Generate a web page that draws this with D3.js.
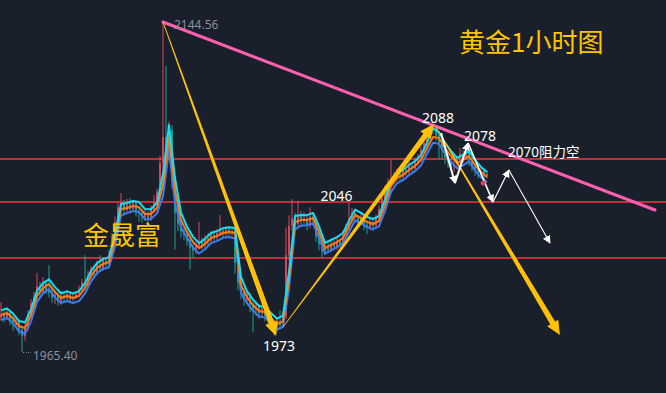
<!DOCTYPE html>
<html><head><meta charset="utf-8">
<script src="https://cdn.jsdelivr.net/npm/d3@7"></script>
<style>html,body{margin:0;padding:0;background:#1a1f2c;}svg{display:block}</style>
</head><body>
<script>
// ---------- data ----------
const firstOpen = 1984.0;
const closes = [
1986.0,1984.0,1986.8,1983.0,1980.5,1982.0,1977.5,1974.0,1979.0,1986.0,
1992.0,1995.5,2001.0,1998.0,2003.0,1999.0,1997.5,1995.0,1996.5,1993.0,
1996.0,1994.5,1996.8,1994.0,1995.5,1997.0,1999.5,2003.0,2001.5,2007.0,
2010.0,2008.5,2013.0,2011.0,2015.0,2013.0,2018.0,2028.0,2036.0,2044.0,
2046.0,2042.5,2045.5,2043.0,2046.0,2042.0,2041.0,2038.5,2040.5,2038.0,
2043.0,2046.5,2052.0,2068.0,2082.0,2076.0,2086.0,2058.0,2041.0,2035.0,
2031.0,2029.0,2026.0,2022.0,2020.5,2023.0,2025.5,2023.5,2027.0,2026.0,
2029.0,2027.5,2030.0,2031.5,2029.5,2032.0,2030.5,2031.0,2014.0,2003.0,
1998.0,1994.0,1996.5,1991.0,1988.0,1990.0,1986.5,1989.0,1985.0,1983.0,
1980.5,1978.0,1982.0,1980.0,1985.0,2018.0,2034.0,2038.0,2035.0,2040.0,
2036.5,2038.0,2034.0,2039.0,2037.0,2028.0,2024.0,2020.0,2022.5,2021.0,
2024.0,2022.5,2025.5,2024.0,2029.0,2033.0,2038.0,2041.0,2038.5,2036.0,
2038.0,2034.5,2033.0,2036.0,2034.0,2038.0,2043.0,2049.0,2053.0,2057.0,
2059.0,2060.0,2062.5,2060.5,2064.0,2063.0,2066.5,2065.0,2068.5,2071.0,
2075.0,2079.0,2084.0,2086.0,2087.5,2083.0,2079.0,2075.0,2071.0,2068.5,
2066.0,2067.5,2070.0,2073.0,2071.0,2074.0,2069.0,2066.0,2064.0,2062.0,
2063.5,2061.0,2062.0];
const highs = [
1992.5,1987.5,1988.5,1988.0,1984.5,1984.0,1983.0,1979.0,1981.0,1988.0,
1994.0,1998.0,2008.3,2003.5,2006.0,2004.5,2012.6,2000.0,1999.0,1998.0,
1998.5,1997.5,1999.0,1998.0,1997.5,1998.5,2001.5,2005.0,2018.0,2009.5,
2012.0,2012.5,2015.0,2018.0,2017.0,2016.5,2020.8,2030.0,2039.0,2046.5,
2051.7,2048.0,2048.5,2049.0,2048.0,2047.5,2044.0,2042.5,2042.5,2042.0,
2045.0,2050.5,2054.0,2072.0,2144.56,2120.7,2090.5,2088.5,2060.0,2045.0,
2037.5,2033.0,2031.0,2027.5,2024.0,2025.0,2036.0,2027.5,2029.0,2030.0,
2031.0,2031.5,2032.0,2039.8,2033.0,2033.5,2033.5,2032.5,2032.0,2016.0,
2005.0,2000.0,1998.5,1998.0,1992.5,1992.0,1991.5,1991.0,1990.0,1988.5,
1985.0,1982.0,1984.0,1988.0,1987.5,2033.0,2039.5,2048.4,2041.0,2047.5,
2042.0,2041.5,2040.0,2044.0,2041.0,2038.5,2030.0,2026.0,2024.5,2025.0,
2026.0,2026.0,2028.0,2027.0,2031.0,2035.0,2046.3,2043.5,2043.0,2040.0,
2040.5,2039.5,2036.5,2038.0,2037.5,2040.0,2045.0,2051.0,2056.0,2059.5,
2070.0,2063.0,2065.0,2064.0,2067.0,2066.0,2068.5,2068.0,2071.0,2073.0,
2077.0,2081.0,2086.0,2088.0,2089.2,2088.5,2085.0,2081.0,2077.0,2073.0,
2070.0,2069.5,2072.0,2076.1,2075.0,2077.7,2075.5,2071.0,2068.0,2066.0,
2065.5,2065.0,2064.0];
const lows = [
1982.5,1981.5,1983.0,1980.0,1977.0,1978.5,1974.5,1965.4,1971.5,1977.0,
1984.5,1990.0,1993.5,1995.0,1996.5,1997.0,1995.0,1992.0,1991.5,1990.5,
1991.0,1992.5,1993.0,1992.5,1993.0,1994.0,1995.5,1998.0,1999.5,2000.0,
2005.0,2006.0,2007.0,2009.0,2009.5,2011.0,2011.5,2016.0,2026.0,2034.0,
2041.0,2039.5,2040.5,2040.5,2041.5,2039.0,2036.0,2035.5,2036.5,2035.0,
2036.5,2041.0,2044.5,2050.5,2064.0,2071.0,2073.0,2054.0,2021.0,2031.0,
2027.5,2026.0,2023.0,2010.0,2016.5,2018.5,2021.5,2021.0,2022.0,2023.5,
2024.5,2025.0,2026.0,2028.5,2027.5,2028.0,2028.5,2028.5,2008.0,1999.0,
1994.0,1990.5,1991.5,1987.0,1976.0,1985.0,1983.5,1984.5,1982.0,1979.5,
1977.5,1974.5,1976.0,1977.5,1978.5,1983.5,2015.0,2031.0,2031.5,2033.0,
2033.5,2034.5,2031.5,2032.5,2034.0,2025.0,2020.5,2016.4,2018.0,2019.0,
2019.5,2020.5,2021.0,2022.0,2022.5,2027.5,2031.5,2036.0,2036.0,2033.0,
2034.5,2031.5,2029.4,2031.5,2031.0,2032.5,2036.5,2041.5,2047.0,2051.0,
2055.0,2056.5,2058.0,2058.0,2059.0,2060.5,2061.5,2062.5,2063.5,2066.5,
2069.5,2073.0,2077.5,2082.0,2083.5,2080.0,2070.0,2070.5,2067.5,2065.5,
2063.5,2063.0,2065.5,2068.5,2068.0,2069.5,2066.5,2063.5,2061.0,2059.5,
2060.0,2059.0,2059.5];
// moving-average band, one value every 2 candles
const maStep = 2;
const maMid = [
1985.5,1986.5,1983.8,1979.5,1978.4,1985.5,1995.8,2000.1,2002.3,1997.9,
1994.7,1995.8,1994.7,1995.8,2000.1,2006.6,2011.0,2013.2,2014.2,2026.2,
2043.0,2043.6,2044.6,2044.1,2040.3,2040.3,2043.6,2056.0,2081.6,2053.3,
2037.0,2030.5,2025.1,2021.8,2024.0,2027.3,2028.3,2030.0,2030.5,2030.0,
2001.7,1995.2,1990.9,1987.6,1987.1,1983.8,1980.6,1982.2,2004.5,2036.0,
2037.0,2037.0,2038.1,2030.5,2021.8,2023.5,2025.1,2027.3,2033.8,2039.8,
2038.1,2036.0,2034.9,2036.5,2045.2,2055.5,2059.9,2061.5,2064.2,2066.4,
2069.6,2076.1,2082.1,2081.6,2076.1,2071.8,2068.0,2069.6,2071.8,2066.9,
2063.1,2060.4];
const maUpper = [
1988.0,1989.0,1986.3,1982.2,1981.5,1988.5,1998.6,2002.8,2004.9,2000.6,
1997.3,1998.3,1997.2,1998.4,2002.8,2009.4,2013.7,2015.8,2016.9,2029.4,
2045.8,2046.3,2047.4,2046.8,2043.0,2042.9,2046.4,2062.0,2088.6,2060.0,
2041.0,2033.4,2027.9,2024.6,2026.8,2030.0,2031.0,2032.6,2033.1,2032.7,
2006.0,1998.3,1993.8,1990.4,1989.9,1986.6,1983.5,1985.2,2009.0,2039.2,
2039.8,2039.7,2040.9,2033.6,2024.6,2026.2,2027.8,2030.0,2036.6,2042.7,
2040.9,2038.7,2037.6,2039.2,2048.2,2058.4,2062.6,2064.2,2066.9,2069.1,
2072.4,2079.0,2086.8,2084.6,2079.0,2074.6,2070.8,2072.4,2074.6,2069.7,
2065.9,2063.1];
const maLower = [
1982.8,1983.8,1981.0,1976.6,1975.3,1982.0,1992.5,1997.2,1999.5,1995.0,
1992.0,1993.1,1992.0,1993.0,1997.2,2003.6,2008.2,2010.5,2011.4,2022.6,
2039.6,2040.8,2041.9,2041.3,2037.5,2037.6,2040.7,2050.0,2075.1,2046.5,
2033.0,2027.5,2022.2,2018.9,2021.2,2024.5,2025.6,2027.4,2027.8,2027.0,
1997.5,1992.0,1987.9,1984.7,1984.2,1980.9,1977.6,1979.0,2000.0,2032.0,
2034.0,2034.2,2035.2,2027.2,2018.8,2020.6,2022.3,2024.5,2030.7,2036.8,
2035.2,2033.2,2032.1,2033.6,2042.0,2052.3,2057.0,2058.7,2061.4,2063.6,
2066.7,2073.0,2079.0,2078.4,2073.0,2068.8,2065.1,2066.7,2068.9,2064.0,
2060.2,2057.5];
const levels = [2070.4, 2047.0, 2016.3];
const extremeHigh = [54, 2144.56];
const extremeLow = [7, 1965.40];
const trendLine = [[54, 2144.56], [218, 2042.5]];
const goldArrows = [
  [[54, 2144.56], [91.7, 1974.1]],
  [[94, 1978.9], [144.3, 2089.2]],
  [[145, 2087.5], [186.3, 1974.6]]
];
const whitePath = [[146.7, 2084.3], [151.3, 2057.1], [155.7, 2078.9], [164, 2046.8], [169.3, 2064.2], [183, 2024.6]];
const pointLabels = [
  {text: "2046", i: 111.8, p: 2047.6, anchor: "middle"},
  {text: "1973", i: 92.7, p: 1965.9, anchor: "middle"},
  {text: "2088", i: 145.7, p: 2089.6, anchor: "middle"},
  {text: "2078", i: 159.7, p: 2079.7, anchor: "middle"},
  {text: "2070阻力空", i: 169, p: 2071.4, anchor: "start"}
];
const lastDot = [160.7, 2057.1];
const title = "黄金1小时图";
const brand = "金晟富";

// ---------- drawing ----------
const W = 666, H = 393;
const x = d3.scaleLinear().domain([0, 162]).range([1, 487]);
const y = d3.scaleLinear().domain([1965.40, 2144.56]).range([352, 22]);
const svg = d3.select("body").append("svg").attr("width", W).attr("height", H);
svg.append("rect").attr("width", W).attr("height", H).attr("fill", "#1a1f2c");

const UP = "#e0465a", DOWN = "#1ba38a";

// horizontal levels
svg.selectAll("line.lvl").data(levels).enter().append("line")
  .attr("x1", 0).attr("x2", W).attr("y1", d => Math.round(y(d))).attr("y2", d => Math.round(y(d)))
  .attr("stroke", "#c02e3c").attr("stroke-width", 2).attr("shape-rendering", "crispEdges");

// candles
const candles = closes.map((c, i) => ({i, o: i ? closes[i - 1] : firstOpen, c, h: highs[i], l: lows[i]}));
const cg = svg.append("g");
cg.selectAll("line").data(candles).enter().append("line")
  .attr("x1", d => x(d.i)).attr("x2", d => x(d.i))
  .attr("y1", d => y(d.h)).attr("y2", d => y(d.l))
  .attr("stroke", d => d.c >= d.o ? UP : DOWN).attr("stroke-width", 1);
cg.selectAll("rect").data(candles).enter().append("rect")
  .attr("x", d => x(d.i) - 0.9).attr("width", 1.8)
  .attr("y", d => y(Math.max(d.o, d.c)))
  .attr("height", d => Math.max(1, Math.abs(y(d.o) - y(d.c))))
  .attr("fill", d => d.c >= d.o ? UP : DOWN);

// MA band
const maLine = d3.line().x((d, k) => x(k * maStep)).y(d => y(d));
[[maLower, "#3b7cf0"], [maMid, "#ff7a12"], [maUpper, "#14e0f0"]].forEach(([arr, col]) => {
  svg.append("path").attr("d", maLine(arr)).attr("fill", "none")
    .attr("stroke", col).attr("stroke-width", 2).attr("stroke-linejoin", "round");
});

// pink trend line
svg.append("line")
  .attr("x1", x(trendLine[0][0])).attr("y1", y(trendLine[0][1]))
  .attr("x2", x(trendLine[1][0])).attr("y2", y(trendLine[1][1]))
  .attr("stroke", "#ff5fae").attr("stroke-width", 3).attr("stroke-linecap", "round");

// tapered gold arrows
function taper(a, b, w0, w1, hl, hw) {
  const sx = x(a[0]), sy = y(a[1]), tx = x(b[0]), ty = y(b[1]);
  const dx = tx - sx, dy = ty - sy, len = Math.hypot(dx, dy);
  const ux = dx / len, uy = dy / len, nx = -uy, ny = ux;
  const bx = tx - ux * hl, by = ty - uy * hl;
  const pts = [
    [sx + nx * w0 / 2, sy + ny * w0 / 2], [bx + nx * w1 / 2, by + ny * w1 / 2],
    [bx + nx * hw / 2, by + ny * hw / 2], [tx, ty],
    [bx - nx * hw / 2, by - ny * hw / 2], [bx - nx * w1 / 2, by - ny * w1 / 2],
    [sx - nx * w0 / 2, sy - ny * w0 / 2]];
  return "M" + pts.map(p => p.join(",")).join("L") + "Z";
}
goldArrows.forEach(([a, b]) => {
  svg.append("path").attr("d", taper(a, b, 0.8, 5.5, 14, 13)).attr("fill", "#ffc107");
});

// white zig-zag arrows
const defs = svg.append("defs");
defs.append("marker").attr("id", "wh").attr("viewBox", "0 0 10 10")
  .attr("refX", 9).attr("refY", 5).attr("markerWidth", 8).attr("markerHeight", 8)
  .attr("markerUnits", "userSpaceOnUse").attr("orient", "auto")
  .append("path").attr("d", "M0,0L10,5L0,10Z").attr("fill", "#ffffff");
const wWidths = [2, 2, 1.6, 1.2, 1.1];
for (let k = 0; k < whitePath.length - 1; k++) {
  const a = whitePath[k], b = whitePath[k + 1];
  svg.append("line").attr("x1", x(a[0])).attr("y1", y(a[1])).attr("x2", x(b[0])).attr("y2", y(b[1]))
    .attr("stroke", "#ffffff").attr("stroke-width", wWidths[k]).attr("marker-end", "url(#wh)");
}

// last price dot
svg.append("circle").attr("cx", x(lastDot[0])).attr("cy", y(lastDot[1])).attr("r", 2.5).attr("fill", "#e8404f");

// extreme labels
const gray = "#8b909a";
svg.append("line").attr("x1", x(extremeHigh[0]) + 2).attr("x2", x(extremeHigh[0]) + 9)
  .attr("y1", y(extremeHigh[1]) + 2).attr("y2", y(extremeHigh[1]) + 2)
  .attr("stroke", gray).attr("stroke-width", 1).attr("stroke-dasharray", "1,1.5");
svg.append("text").attr("x", x(extremeHigh[0]) + 11).attr("y", y(extremeHigh[1]) + 7)
  .attr("font-family", "Noto Sans, sans-serif").attr("font-size", 12).attr("fill", gray)
  .text(extremeHigh[1].toFixed(2));
svg.append("line").attr("x1", x(extremeLow[0]) + 1).attr("x2", x(extremeLow[0]) + 9)
  .attr("y1", y(extremeLow[1]) + 0.5).attr("y2", y(extremeLow[1]) + 0.5)
  .attr("stroke", gray).attr("stroke-width", 1).attr("stroke-dasharray", "1,1.5");
svg.append("text").attr("x", x(extremeLow[0]) + 11).attr("y", y(extremeLow[1]) + 7.5)
  .attr("font-family", "Noto Sans, sans-serif").attr("font-size", 12).attr("fill", gray)
  .text(extremeLow[1].toFixed(2));

// point labels
svg.selectAll("text.pl").data(pointLabels).enter().append("text")
  .attr("x", d => x(d.i)).attr("y", d => y(d.p)).attr("text-anchor", d => d.anchor)
  .attr("font-family", "Noto Sans, Noto Sans CJK SC, sans-serif")
  .attr("font-size", d => d.anchor === "start" ? 13.5 : 14).attr("fill", "#ffffff")
  .text(d => d.text);

// titles
svg.append("text").attr("x", 459).attr("y", 52)
  .attr("font-family", "Noto Sans CJK SC, sans-serif").attr("font-size", 26).attr("fill", "#ffc400")
  .text(title);
svg.append("text").attr("x", 83).attr("y", 245)
  .attr("font-family", "Noto Sans CJK SC, sans-serif").attr("font-size", 26).attr("fill", "#ffc400")
  .text(brand);
</script>
</body></html>
